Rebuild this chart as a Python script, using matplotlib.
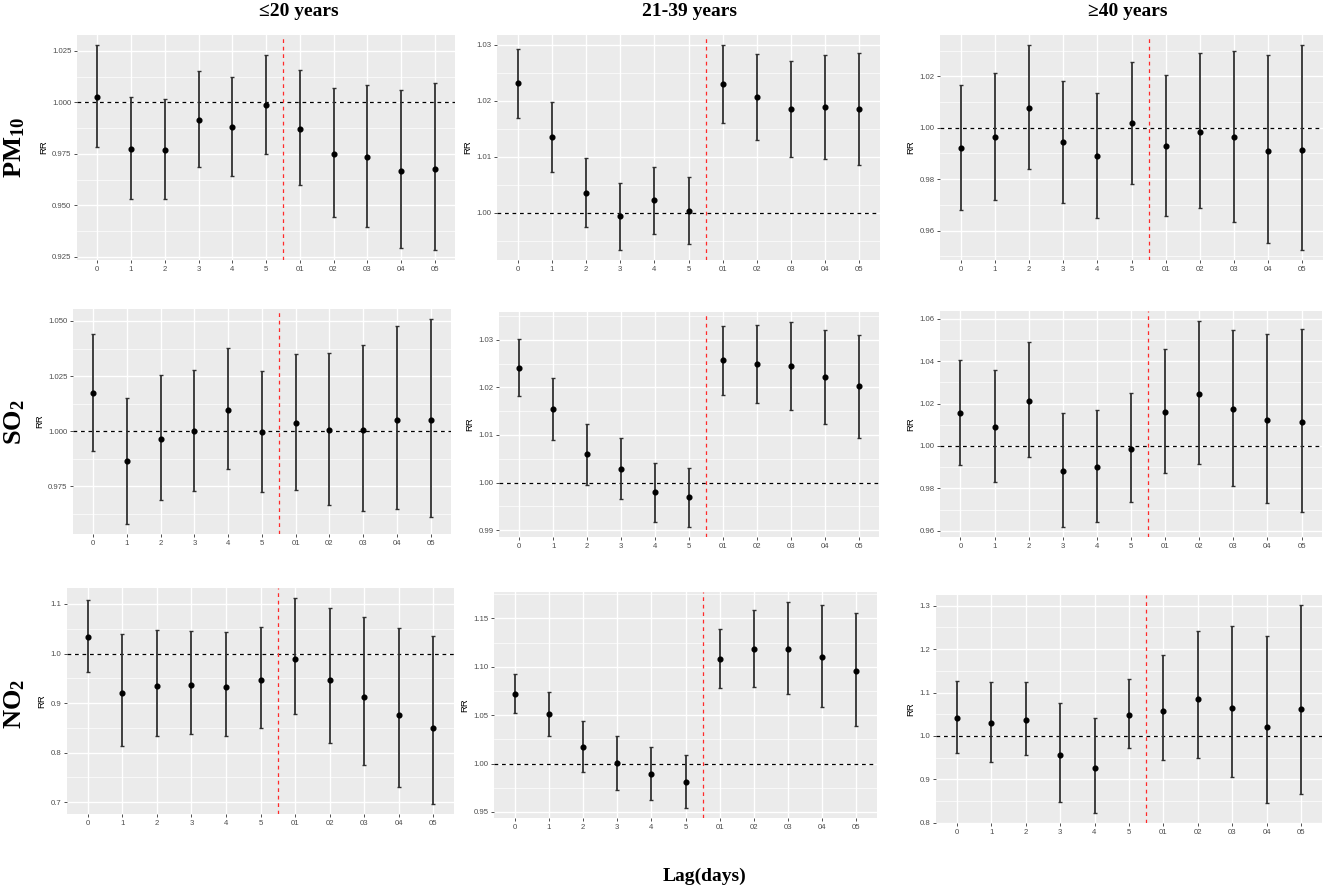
import matplotlib
matplotlib.use("Agg")
import matplotlib.pyplot as plt
import numpy as np

# ---------------- data ----------------
lag_labels = ['0', '1', '2', '3', '4', '5', '01', '02', '03', '04', '05']
age_groups = ['\u226420 years', '21-39 years', '\u226540 years']
pollutants = [r'$\mathbf{PM_{10}}$', r'$\mathbf{SO_{2}}$', r'$\mathbf{NO_{2}}$']

# PM10
pm10_a1_rr = [1.0028, 0.9775, 0.9768, 0.9916, 0.9880, 0.9985, 0.9872, 0.9750, 0.9733, 0.9666, 0.9678]
pm10_a1_lo = [0.9783, 0.9530, 0.9532, 0.9686, 0.9644, 0.9750, 0.9597, 0.9441, 0.9394, 0.9295, 0.9284]
pm10_a1_hi = [1.0277, 1.0024, 1.0015, 1.0152, 1.0125, 1.0230, 1.0157, 1.0071, 1.0086, 1.0058, 1.0094]

pm10_a2_rr = [1.0231, 1.0135, 1.0035, 0.9994, 1.0022, 1.0004, 1.0230, 1.0207, 1.0185, 1.0188, 1.0186]
pm10_a2_lo = [1.0169, 1.0073, 0.9974, 0.9934, 0.9962, 0.9944, 1.0160, 1.0129, 1.0100, 1.0096, 1.0085]
pm10_a2_hi = [1.0293, 1.0198, 1.0098, 1.0054, 1.0082, 1.0063, 1.0299, 1.0283, 1.0270, 1.0282, 1.0286]

pm10_a3_rr = [0.9920, 0.9965, 1.0076, 0.9943, 0.9888, 1.0017, 0.9929, 0.9983, 0.9963, 0.9911, 0.9912]
pm10_a3_lo = [0.9678, 0.9720, 0.9838, 0.9708, 0.9648, 0.9782, 0.9657, 0.9687, 0.9634, 0.9552, 0.9525]
pm10_a3_hi = [1.0167, 1.0214, 1.0321, 1.0183, 1.0134, 1.0256, 1.0207, 1.0291, 1.0299, 1.0284, 1.0320]

# SO2
so2_a1_rr = [1.0172, 0.9864, 0.9965, 1.0000, 1.0098, 0.9998, 1.0036, 1.0006, 1.0008, 1.0051, 1.0050]
so2_a1_lo = [0.9909, 0.9581, 0.9687, 0.9729, 0.9831, 0.9726, 0.9732, 0.9666, 0.9637, 0.9648, 0.9613]
so2_a1_hi = [1.0440, 1.0153, 1.0254, 1.0277, 1.0376, 1.0274, 1.0349, 1.0357, 1.0390, 1.0476, 1.0508]

so2_a2_rr = [1.0241, 1.0154, 1.0059, 1.0029, 0.9980, 0.9969, 1.0258, 1.0249, 1.0244, 1.0221, 1.0202]
so2_a2_lo = [1.0181, 1.0089, 0.9994, 0.9966, 0.9917, 0.9907, 1.0184, 1.0168, 1.0152, 1.0122, 1.0093]
so2_a2_hi = [1.0301, 1.0219, 1.0124, 1.0093, 1.0042, 1.0031, 1.0329, 1.0332, 1.0337, 1.0321, 1.0311]

so2_a3_rr = [1.0155, 1.0091, 1.0213, 0.9882, 0.9900, 0.9987, 1.0160, 1.0243, 1.0174, 1.0121, 1.0111]
so2_a3_lo = [0.9909, 0.9829, 0.9947, 0.9619, 0.9641, 0.9735, 0.9872, 0.9914, 0.9812, 0.9730, 0.9688]
so2_a3_hi = [1.0406, 1.0359, 1.0489, 1.0155, 1.0168, 1.0248, 1.0458, 1.0588, 1.0548, 1.0527, 1.0550]

# NO2
no2_a1_rr = [1.0330, 0.9207, 0.9348, 0.9362, 0.9335, 0.9469, 0.9886, 0.9462, 0.9120, 0.8764, 0.8495]
no2_a1_lo = [0.9630, 0.8139, 0.8333, 0.8380, 0.8340, 0.8495, 0.8790, 0.8186, 0.7742, 0.7299, 0.6970]
no2_a1_hi = [1.1080, 1.0397, 1.0477, 1.0464, 1.0443, 1.0538, 1.1115, 1.0927, 1.0739, 1.0524, 1.0363]

no2_a2_rr = [1.0723, 1.0510, 1.0175, 1.0007, 0.9894, 0.9815, 1.1082, 1.1185, 1.1181, 1.1099, 1.0957]
no2_a2_lo = [1.0527, 1.0285, 0.9911, 0.9732, 0.9623, 0.9544, 1.0777, 1.0787, 1.0715, 1.0580, 1.0391]
no2_a2_hi = [1.0921, 1.0743, 1.0443, 1.0288, 1.0172, 1.0093, 1.1394, 1.1585, 1.1667, 1.1643, 1.1555]

no2_a3_rr = [1.0403, 1.0287, 1.0357, 0.9558, 0.9256, 1.0480, 1.0581, 1.0853, 1.0651, 1.0202, 1.0612]
no2_a3_lo = [0.9612, 0.9403, 0.9558, 0.8488, 0.8233, 0.9721, 0.9450, 0.9481, 0.9047, 0.8450, 0.8667]
no2_a3_hi = [1.1271, 1.1240, 1.1233, 1.0752, 1.0403, 1.1302, 1.1853, 1.2419, 1.2543, 1.2295, 1.3008]

# y-axis tick labels per panel
yt_pm10_a1 = ['0.925', '0.950', '0.975', '1.000', '1.025']
yt_pm10_a2 = ['1.00', '1.01', '1.02', '1.03']
yt_pm10_a3 = ['0.96', '0.98', '1.00', '1.02']
yt_so2_a1 = ['0.975', '1.000', '1.025', '1.050']
yt_so2_a2 = ['0.99', '1.00', '1.01', '1.02', '1.03']
yt_so2_a3 = ['0.96', '0.98', '1.00', '1.02', '1.04', '1.06']
yt_no2_a1 = ['0.7', '0.8', '0.9', '1.0', '1.1']
yt_no2_a2 = ['0.95', '1.00', '1.05', '1.10', '1.15']
yt_no2_a3 = ['0.8', '0.9', '1.0', '1.1', '1.2', '1.3']

panels = [
    [(pm10_a1_rr, pm10_a1_lo, pm10_a1_hi, yt_pm10_a1),
     (pm10_a2_rr, pm10_a2_lo, pm10_a2_hi, yt_pm10_a2),
     (pm10_a3_rr, pm10_a3_lo, pm10_a3_hi, yt_pm10_a3)],
    [(so2_a1_rr, so2_a1_lo, so2_a1_hi, yt_so2_a1),
     (so2_a2_rr, so2_a2_lo, so2_a2_hi, yt_so2_a2),
     (so2_a3_rr, so2_a3_lo, so2_a3_hi, yt_so2_a3)],
    [(no2_a1_rr, no2_a1_lo, no2_a1_hi, yt_no2_a1),
     (no2_a2_rr, no2_a2_lo, no2_a2_hi, yt_no2_a2),
     (no2_a3_rr, no2_a3_lo, no2_a3_hi, yt_no2_a3)],
]

# ---------------- layout (pixel boxes: x1, y1, x2, y2) ----------------
W, H = 1325, 888
boxes = [
    [(77, 35, 455, 260), (497, 35, 880, 260), (940, 35, 1323, 260)],
    [(73, 309, 451, 534), (499, 312, 879, 537), (940, 311, 1322, 537)],
    [(67, 588, 454, 814), (494, 592, 877, 818), (936, 595, 1322, 823)],
]

plt.rcParams['mathtext.fontset'] = 'custom'
plt.rcParams['mathtext.rm'] = 'Liberation Serif'
plt.rcParams['mathtext.bf'] = 'Liberation Serif:bold'
plt.rcParams['mathtext.it'] = 'Liberation Serif:italic'

SERIF = ['Liberation Serif', 'DejaVu Serif']
SANS = ['Liberation Sans', 'DejaVu Sans']

fig = plt.figure(figsize=(W / 100, H / 100), dpi=100)
fig.patch.set_facecolor('white')

x = np.arange(len(lag_labels))

for r in range(3):
    for c in range(3):
        rr, lo, hi, ytl = panels[r][c]
        x1, y1, x2, y2 = boxes[r][c]
        ax = fig.add_axes([x1 / W, 1 - y2 / H, (x2 - x1) / W, (y2 - y1) / H])
        ax.set_facecolor('#EBEBEB')
        for s in ax.spines.values():
            s.set_visible(False)
        rr = np.array(rr); lo = np.array(lo); hi = np.array(hi)
        yticks = np.array([float(t) for t in ytl])
        # limits (ggplot 5% expansion)
        dmin = min(lo.min(), 1.0); dmax = max(hi.max(), 1.0)
        rng = dmax - dmin
        ymin, ymax = dmin - 0.05 * rng, dmax + 0.05 * rng
        ax.set_xlim(-0.6, len(lag_labels) - 1 + 0.6)
        ax.set_ylim(ymin, ymax)
        # grid
        step = yticks[1] - yticks[0]
        minors = np.concatenate([[yticks[0] - step / 2], (yticks[:-1] + yticks[1:]) / 2, [yticks[-1] + step / 2]])
        for m in minors:
            if ymin < m < ymax:
                ax.axhline(m, color='white', lw=0.5, zorder=0.5)
        for t in yticks:
            ax.axhline(t, color='white', lw=1.0, zorder=0.6)
        for xi in x:
            ax.axvline(xi, color='white', lw=1.0, zorder=0.6)
        # reference lines
        ax.axhline(1.0, color='black', lw=0.9, ls=(0, (3, 3)), zorder=2)
        ax.axvline(5.5, color='#FF2A2A', lw=0.9, ls=(0, (3, 3)), zorder=2)
        # error bars and points
        ax.errorbar(x, rr, yerr=[rr - lo, hi - rr], fmt='none', ecolor='#303030',
                    elinewidth=1.3, capsize=1.6, capthick=1.0, zorder=3)
        ax.plot(x, rr, 'o', color='black', markersize=3.4, zorder=4)
        # ticks
        ax.set_xticks(x)
        ax.set_xticklabels(lag_labels, family=SANS, fontsize=5.6, color='#4D4D4D')
        ax.set_yticks(yticks)
        ax.set_yticklabels(ytl, family=SANS, fontsize=5.6, color='#4D4D4D')
        ax.tick_params(axis='both', length=2, width=0.6, color='#333333', pad=2)
        ax.set_ylabel('RR', family=SANS, fontsize=6.8, color='black', labelpad=3)

# column titles
col_centers = [299, 690, 1128]
for c in range(3):
    fig.text(col_centers[c] / W, 1 - 11 / H, age_groups[c], family=SERIF, fontweight='bold',
             fontsize=14, ha='center', va='center', color='black')

# row labels
row_centers = [147, 422, 704]
for r in range(3):
    fig.text(14 / W, 1 - row_centers[r] / H, pollutants[r], fontsize=19, rotation=90,
             ha='center', va='center', color='black')

fig.text(705 / W, 1 - 876 / H, 'Lag(days)', family=SERIF, fontweight='bold', fontsize=14,
         ha='center', va='center', color='black')

fig.savefig('out.png', dpi=100, facecolor='white')
